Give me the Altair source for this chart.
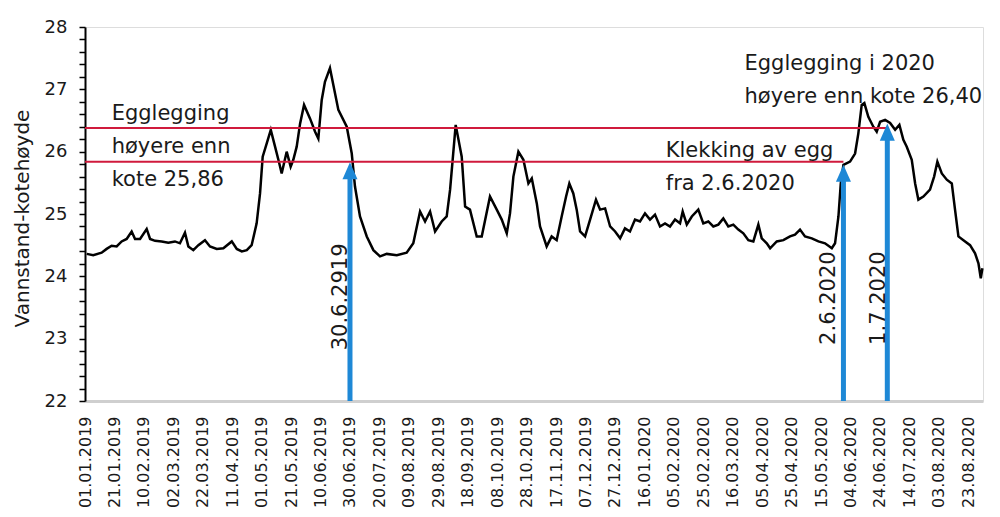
import altair as alt
import pandas as pd

# Water level series: days since 01.01.2019 and level (kote)
days = [1.2, 5.6, 11.3, 14.7, 18.1, 21.5, 24.9, 28.3, 31.7, 34.0, 37.4, 41.9, 44.2, 47.6,
        52.1, 56.6, 61.1, 64.5, 67.9, 70.2, 73.6, 77.0, 81.5, 84.9, 89.5, 94.0, 99.7, 103.1,
        106.5, 109.9, 113.2, 116.6, 118.9, 120.7, 123.4, 126.2, 129.1, 132.0, 133.6, 137.0,
        139.7, 141.5, 143.8, 146.1, 148.8, 152.9, 156.3, 158.5, 160.8, 163.0, 166.4, 172.1,
        177.8, 181.2, 183.4, 186.8, 191.4, 195.9, 200.4, 205.0, 211.8, 218.5, 223.0, 227.6,
        231.0, 234.4, 237.8, 242.3, 245.7, 248.0, 251.8, 255.9, 258.2, 261.5, 266.1, 269.5,
        275.1, 279.7, 283.1, 286.5, 288.7, 291.0, 294.4, 297.8, 301.2, 303.5, 306.9, 309.1,
        313.6, 317.0, 320.4, 323.8, 326.8, 329.0, 331.7, 334.0, 336.3, 339.7, 343.1, 347.1,
        349.9, 353.3, 356.7, 360.1, 363.5, 366.8, 370.2, 373.6, 377.0, 380.4, 383.8, 387.2,
        390.6, 394.0, 397.4, 400.8, 404.2, 406.0, 408.8, 412.2, 416.6, 420.0, 423.4, 426.8,
        430.2, 433.6, 437.0, 440.4, 443.8, 447.2, 450.6, 454.0, 457.4, 459.7, 463.1, 465.4,
        469.9, 474.4, 478.9, 482.3, 485.7, 489.1, 493.7, 498.2, 502.7, 507.3, 509.5, 511.8,
        513.4, 515.2, 519.7, 523.1, 525.3, 527.6, 529.4, 532.1, 535.5, 537.8, 540.1, 543.5,
        546.9, 550.3, 553.2, 555.9, 558.2, 561.6, 563.9, 566.1, 569.5, 574.0, 576.8, 579.0,
        582.0, 585.4, 588.8, 591.0, 593.3, 596.7, 601.2, 604.6, 606.9, 608.5, 609.6]
level = [24.36, 24.34, 24.38, 24.44, 24.49, 24.48, 24.56, 24.60, 24.72, 24.60, 24.60, 24.76, 24.60, 24.57,
         24.56, 24.54, 24.56, 24.53, 24.70, 24.48, 24.42, 24.50, 24.58, 24.48, 24.44, 24.45, 24.56, 24.44,
         24.40, 24.42, 24.50, 24.85, 25.33, 25.92, 26.13, 26.35, 26.08, 25.81, 25.65, 26.00,
         25.76, 25.87, 26.08, 26.45, 26.75, 26.53, 26.32, 26.21, 26.83, 27.12, 27.34, 26.67,
         26.40, 25.97, 25.44, 24.96, 24.64, 24.42, 24.32, 24.36, 24.34, 24.38, 24.53, 25.04,
         24.88, 25.04, 24.72, 24.88, 24.96, 25.39, 26.43, 25.92, 25.12, 25.07, 24.64, 24.64,
         25.28, 25.07, 24.91, 24.69, 25.01, 25.60, 26.00, 25.87, 25.49, 25.57, 25.17, 24.80,
         24.48, 24.64, 24.58, 24.96, 25.28, 25.49, 25.33, 25.07, 24.72, 24.64, 24.91, 25.23,
         25.07, 25.09, 24.80, 24.72, 24.61, 24.77, 24.72, 24.91, 24.88, 25.01, 24.91, 24.99,
         24.80, 24.85, 24.80, 24.91, 24.85, 25.04, 24.83, 24.96, 25.07, 24.85, 24.88, 24.80,
         24.83, 24.93, 24.80, 24.83, 24.75, 24.69, 24.58, 24.56, 24.83, 24.61, 24.53, 24.45,
         24.56, 24.58, 24.64, 24.67, 24.75, 24.64, 24.61, 24.56, 24.53, 24.45, 24.53, 24.96,
         25.49, 25.79, 25.84, 25.97, 26.29, 26.75, 26.78, 26.56, 26.40, 26.32, 26.48, 26.51,
         26.46, 26.35, 26.43, 26.19, 26.08, 25.87, 25.49, 25.23, 25.28, 25.39, 25.60, 25.84,
         25.65, 25.55, 25.49, 25.07, 24.64, 24.58, 24.50, 24.37, 24.21, 23.97, 24.13]

x_tick_days = list(range(0, 601, 20))
y_ticks = [round(22 + 0.2 * i, 1) for i in range(31)]

# Threshold lines (kote) and where they end
threshold_level = [25.84, 26.38]
threshold_end = [515.2, 545.0]

# Arrows
arrow_day = [180.0, 515.2, 545.0]
arrow_tip = [25.83, 25.79, 26.45]
arrow_base = [25.58, 25.54, 26.20]
arrow_label = ["30.6.2919", "2.6.2020", "1.7.2020"]
arrow_label_day = [177.8, 509.5, 543.5]
arrow_label_level = [23.67, 23.65, 23.65]

# Notes
note_text = ["Egglegging\nhøyere enn\nkote 25,86",
             "Egglegging i 2020\nhøyere enn kote 26,40",
             "Klekking av egg\nfra 2.6.2020"]
note_day = [18.1, 448.0, 394.5]
note_level = [26.51, 27.31, 25.92]

FONT = "DejaVu Sans"
BLUE = "#1e88d6"
RED = "#d01a3c"

xs = alt.Scale(domain=[0, 610], nice=False, zero=False)
ys = alt.Scale(domain=[22, 28], nice=False, zero=False)

series = pd.DataFrame({"day": days, "level": level})
thr = pd.DataFrame({"day": [0, 0], "day2": threshold_end, "level": threshold_level})
arr = pd.DataFrame({"day": arrow_day, "level": arrow_tip, "base": arrow_base,
                    "floor": [22, 22, 22]})
arr_lab = pd.DataFrame({"day": arrow_label_day, "level": arrow_label_level, "text": arrow_label})
notes = pd.DataFrame({"day": note_day, "level": note_level, "text": note_text})

x_axis = alt.Axis(values=x_tick_days,
                  labelExpr="utcFormat(utc(2019, 0, 1 + datum.value), '%d.%m.%Y')",
                  labelAngle=270, labelAlign="right", labelBaseline="middle",
                  labelPadding=15, ticks=False, domainColor="#cfcfcf", domainWidth=3,
                  grid=False, title=None, labelFont=FONT, labelFontSize=16,
                  labelColor="#1a1a1a", labelFlush=False, labelOverlap=False)
y_axis = alt.Axis(values=y_ticks,
                  labelExpr="abs(datum.value - round(datum.value)) < 0.01 ? format(datum.value, 'd') : ''",
                  tickSize=6, tickWidth=1.5, tickColor="black", domainColor="black",
                  domainWidth=2, labelPadding=12, labelFont=FONT, labelFontSize=18,
                  labelColor="#1a1a1a", grid=False, title="Vannstand-kotehøyde",
                  titleFont=FONT, titleFontSize=20, titleFontWeight="normal",
                  titleColor="#1a1a1a", titleX=-57, titleY=191, titleAngle=270,
                  titleAlign="center", titleBaseline="alphabetic", labelOverlap=False,
                  labelFlush=False)

X = lambda f: alt.X(f, scale=xs, axis=x_axis)
Y = lambda f: alt.Y(f, scale=ys, axis=y_axis)

line = alt.Chart(series).mark_line(color="black", strokeWidth=2.5).encode(
    x=X("day:Q"), y=Y("level:Q"),
)

red = alt.Chart(thr).mark_rule(color=RED, strokeWidth=2).encode(
    x=X("day:Q"), x2="day2:Q", y=Y("level:Q"),
)

shaft = alt.Chart(arr).mark_rule(color=BLUE, strokeWidth=5).encode(
    x=X("day:Q"), y=Y("floor:Q"), y2="base:Q",
)

head = alt.Chart(arr).mark_point(shape="M0,0L1,2.27L-1,2.27Z", size=225, filled=True,
                                 color=BLUE, opacity=1).encode(
    x=X("day:Q"), y=Y("level:Q"),
)

arrow_text = alt.Chart(arr_lab).mark_text(angle=270, align="center", baseline="alphabetic",
                                          font=FONT, fontSize=21, color="#1a1a1a").encode(
    x=X("day:Q"), y=Y("level:Q"), text="text:N",
)

note = alt.Chart(notes).mark_text(align="left", baseline="alphabetic", lineBreak="\n",
                                  lineHeight=33, font=FONT, fontSize=21,
                                  color="#1a1a1a").encode(
    x=X("day:Q"), y=Y("level:Q"), text="text:N",
)

chart = alt.layer(line, red, shaft, head, arrow_text, note).properties(
    width=898, height=374,
    autosize=alt.AutoSizeParams(type="none"),
    padding={"left": 77, "top": 19, "right": 9, "bottom": 108},
    background="white",
).configure_view(strokeWidth=0).configure(font=FONT)

chart.save("out.html", embed_options={"renderer": "svg", "actions": False})
